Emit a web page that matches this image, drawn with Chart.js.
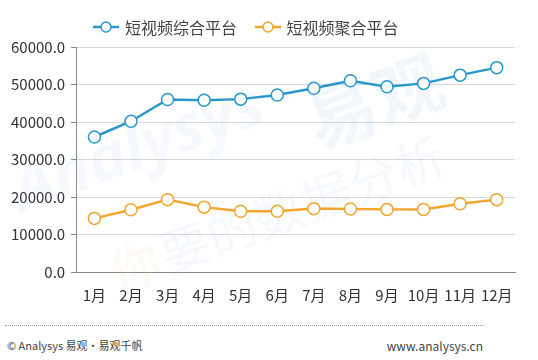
<!DOCTYPE html>
<html lang="zh">
<head>
<meta charset="UTF-8">
<title>短视频平台</title>
<style>
  body { margin: 0; background: #fff; font-family: "Noto Sans CJK SC", sans-serif; }
  .chartBox { position: relative; width: 538px; height: 310px; }
  .legend { position: absolute; top: 12px; left: 93px; font-size: 16px; color: #444; white-space: nowrap; }
  .legend span { display: inline-block; vertical-align: middle; }
  .legend svg { vertical-align: middle; margin-right: 6px; }
  .legend .item2 { margin-left: 14px; }
  .footer-line { position: absolute; left: 5px; top: 325px; width: 478px; border-top: 1px dotted #999; }
  .footer-left { position: absolute; left: 7px; top: 337px; font-size: 11px; color: #444; }
  .footer-right { position: absolute; right: 55px; top: 337px; font-size: 12px; color: #444; }
</style>
</head>
<body>
<div class="chartBox">
  <canvas id="myChart"></canvas>
  <div class="legend">
    <svg width="26" height="14"><line x1="0" y1="7" x2="26" y2="7" stroke="#2a97cc" stroke-width="2.5"/><circle cx="13" cy="7" r="5" fill="#fff" stroke="#2a97cc" stroke-width="1.5"/></svg><span id="leg1"></span>
    <svg class="item2" width="26" height="14"><line x1="0" y1="7" x2="26" y2="7" stroke="#f2a630" stroke-width="2.5"/><circle cx="13" cy="7" r="5" fill="#fff" stroke="#f2a630" stroke-width="1.5"/></svg><span id="leg2"></span>
  </div>
</div>
<div class="footer-line"></div>
<div class="footer-left">© Analysys 易观·易观千帆</div>
<div class="footer-right">www.analysys.cn</div>

<script src="https://cdn.jsdelivr.net/npm/chart.js"></script>
<script>
  const months = ['1月','2月','3月','4月','5月','6月','7月','8月','9月','10月','11月','12月'];
  const seriesNames = ['短视频综合平台', '短视频聚合平台'];
  const zongheData = [36000, 40200, 46000, 45800, 46100, 47200, 49000, 51000, 49400, 50300, 52500, 54500];
  const juheData = [14300, 16600, 19300, 17300, 16200, 16200, 16900, 16800, 16700, 16700, 18200, 19300];
  const blue = '#2a97cc';
  const orange = '#f2a630';

  document.getElementById('leg1').textContent = seriesNames[0];
  document.getElementById('leg2').textContent = seriesNames[1];

  // faint watermark behind the lines
  function wmText(g, text, x, y, font, color) {
    g.save();
    g.translate(x, y);
    g.rotate(-0.35);
    g.font = font;
    g.fillStyle = color;
    g.fillText(text, 0, 0);
    g.restore();
  }
  const watermark = {
    id: 'watermark',
    beforeDatasetsDraw(chart) {
      const g = chart.ctx;
      wmText(g, 'Analysys', 22, 212, 'italic bold 64px "Open Sans"', 'rgba(110,170,220,0.07)');
      wmText(g, '易观', 318, 150, 'bold 70px "Noto Sans CJK SC"', 'rgba(110,170,220,0.09)');
      wmText(g, '你', 118, 292, '50px "Noto Sans CJK SC"', 'rgba(240,170,90,0.07)');
      wmText(g, '要的数据分析', 168, 274, '50px "Noto Sans CJK SC"', 'rgba(110,170,220,0.07)');
    }
  };

  const ctx = document.getElementById('myChart');
  new Chart(ctx, {
    type: 'line',
    data: {
      labels: months,
      datasets: [
        {
          label: seriesNames[0],
          data: zongheData,
          borderColor: blue,
          borderWidth: 2.5,
          pointBackgroundColor: '#fff',
          pointBorderColor: blue,
          pointBorderWidth: 1.5,
          pointRadius: 6,
          tension: 0
        },
        {
          label: seriesNames[1],
          data: juheData,
          borderColor: orange,
          borderWidth: 2.5,
          pointBackgroundColor: '#fff',
          pointBorderColor: orange,
          pointBorderWidth: 1.5,
          pointRadius: 6,
          tension: 0
        }
      ]
    },
    options: {
      responsive: true,
      maintainAspectRatio: false,
      animation: { duration: 0 },
      layout: { padding: { left: 5, right: 23, top: 47, bottom: 0 } },
      plugins: {
        legend: { display: false },
        tooltip: { enabled: false }
      },
      scales: {
        y: {
          min: 0,
          max: 60000,
          ticks: {
            stepSize: 10000,
            color: '#333',
            font: { size: 15, family: '"Noto Sans CJK SC"' },
            padding: 6,
            callback: function (v) { return v.toFixed(1); }
          },
          grid: { color: '#d9d9d9', tickLength: 5, tickColor: '#888' },
          border: { color: '#888', width: 1 }
        },
        x: {
          offset: true,
          ticks: {
            color: '#333',
            font: { size: 15, family: '"Noto Sans CJK SC"' },
            maxRotation: 0,
            autoSkip: false,
            padding: 6
          },
          grid: { display: false, offset: true },
          border: { color: '#888', width: 1 }
        }
      }
    },
    plugins: [watermark]
  });
</script>
</body>
</html>
